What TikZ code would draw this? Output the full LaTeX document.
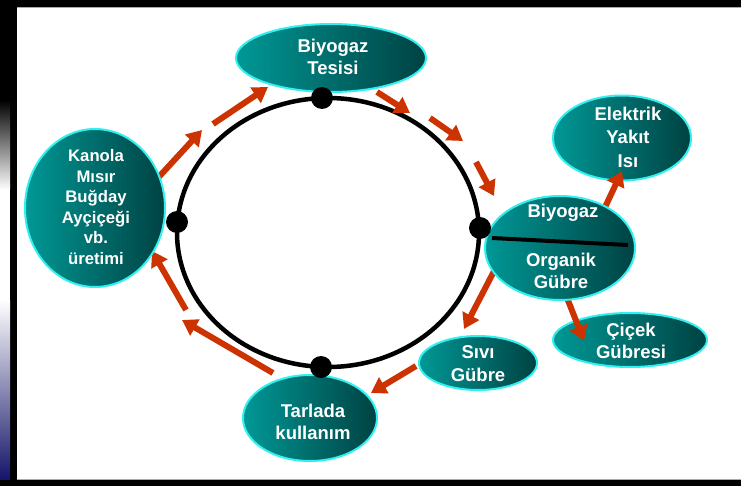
\documentclass[tikz,border=0pt]{standalone}
\usepackage{fontspec}
\setmainfont{Liberation Sans}
\usetikzlibrary{arrows.meta,shapes.geometric}
\definecolor{arrowred}{RGB}{204,51,0}
\definecolor{tealL}{RGB}{0,152,150}
\definecolor{tealD}{RGB}{0,66,66}
\definecolor{glow}{RGB}{50,240,240}
\definecolor{navy}{RGB}{12,12,100}
\definecolor{rimgray}{RGB}{170,170,170}
\begin{document}
\begin{tikzpicture}[x=1pt,y=-1pt,
  blob/.style={ellipse, draw=glow, line width=2pt, left color=tealL, right color=tealD, inner sep=0pt},
  lbl/.style={text=white, font=\bfseries\fontsize{18.5}{22.5}\selectfont, align=center, inner sep=0pt},
  lblsmall/.style={text=white, font=\bfseries\fontsize{16.7}{20.6}\selectfont, align=center, inner sep=0pt},
  dot/.style={circle, fill=black, minimum size=22pt, inner sep=0pt},
  flow/.style={draw=arrowred, line width=6pt, -{Triangle[length=15pt,width=18pt]}},
]
\useasboundingbox (0,0) rectangle (741,486);
% frame
\fill[white] (0,0) rectangle (741,486);
\fill[black] (0,0) rectangle (741,7);
\draw[rimgray, line width=1pt] (17,7.5) -- (741,7.5);
\fill[black] (10,0) rectangle (17,486);
\fill[black] (0,0) rectangle (10,100);
\shade[top color=black, bottom color=white] (0,100) rectangle (10,190);
\shade[top color=white, bottom color=navy] (0,300) rectangle (10,486);
\fill[black] (0,480) rectangle (741,486);
\draw[rimgray, line width=1pt] (17,479.5) -- (741,479.5);

% main cycle
\draw[line width=4.5pt] (328,232.5) ellipse [x radius=151pt, y radius=134.5pt];

% target ellipses (drawn below the arrow heads)
\node[blob, minimum width=190pt, minimum height=68pt] (tesisi) at (331,58) {};
\node[blob, minimum width=138pt, minimum height=85pt] (elektrik) at (622,138) {};
\node[blob, minimum width=118pt, minimum height=54pt] (sivi) at (478,363) {};
\node[blob, minimum width=154pt, minimum height=54pt] (cicek) at (630,340) {};
\node[blob, minimum width=134pt, minimum height=86pt] (tarlada) at (310,418) {};

% arrow coordinates
\coordinate (a1s) at (156,180); \coordinate (a1e) at (202,130);
\coordinate (a2s) at (213,124); \coordinate (a2e) at (268,87);
\coordinate (a3s) at (377,92);  \coordinate (a3e) at (410,113);
\coordinate (a4s) at (430,118); \coordinate (a4e) at (463,141);
\coordinate (a5s) at (476,162); \coordinate (a5e) at (494,196);
\coordinate (a6s) at (585,250); \coordinate (a6e) at (622,171);
\coordinate (a7s) at (505,250); \coordinate (a7e) at (464,329);
\coordinate (a8s) at (416,366); \coordinate (a8e) at (371,393);
\coordinate (a9s) at (560,280); \coordinate (a9e) at (584,341);
\coordinate (a10s) at (273,373); \coordinate (a10e) at (182,320);
\coordinate (a11s) at (186,310); \coordinate (a11e) at (152,251);

\foreach \i in {1,...,11} \draw[flow] (a\i s) -- (a\i e);

% source ellipses (hide arrow tails)
\node[blob, minimum width=140pt, minimum height=158pt] (kanola) at (95,208) {};
\node[blob, minimum width=150pt, minimum height=104pt] (organik) at (560,248) {};
\coordinate (divL) at (492,238);
\coordinate (divR) at (628,245);
\draw[line width=4pt] (divL) -- (divR);

% labels
\node[lbl] (tesisiT) at (333,57) {Biyogaz\\Tesisi};
\node[lblsmall] (kanolaT) at (96,207) {Kanola\\Mısır\\Buğday\\Ayçiçeği\\vb.\\üretimi};
\node[lbl] (organikT1) at (563,213) {Biyogaz};
\node[lbl] (organikT2) at (561,271) {Organik\\Gübre};
\node[lbl, font=\bfseries\fontsize{18.5}{23.5}\selectfont] (elektrikT) at (628,137) {Elektrik\\Yakıt\\Isı};
\node[lbl, font=\bfseries\fontsize{18.5}{23}\selectfont] (siviT) at (478,364) {Sıvı\\Gübre};
\node[lbl] (cicekT) at (631,341) {Çiçek\\Gübresi};
\node[lbl] (tarladaT) at (313,422) {Tarlada\\kullanım};

% dots
\node[dot] (dTop) at (322,98) {};
\node[dot] (dLeft) at (177,222) {};
\node[dot] (dRight) at (480,228) {};
\node[dot] (dBottom) at (321,367) {};
\end{tikzpicture}
\end{document}
